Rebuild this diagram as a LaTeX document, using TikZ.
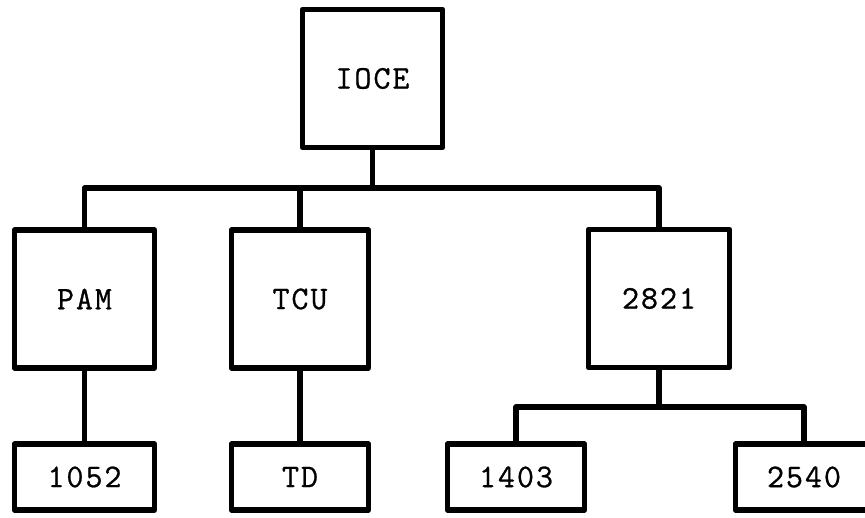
\documentclass[tikz,border=0pt]{standalone}
\usepackage{fontspec}
\newfontfamily\typew[FakeBold=0.8,LetterSpace=6]{Latin Modern Mono}
\begin{document}
\begin{tikzpicture}[x=1pt,y=-1pt,
  blk/.style={draw, line width=5.5pt, line join=round, fill=white, inner sep=0pt,
    font=\typew\fontsize{33}{33}\selectfont, minimum width=140pt},
  big/.style={blk, minimum height=138pt},
  small/.style={blk, minimum height=66pt},
  wire/.style={line width=5.5pt, line join=round}]
\clip (0,0) rectangle (865,517);
\fill[white] (0,0) rectangle (865,517);
\coordinate (bus1) at (0,188);
\coordinate (bus2) at (0,407);
\node[big] (ioce) at (372.5,78.5) {IOCE};
\node[big] (pam) at (84.5,299) {PAM};
\node[big, minimum width=137pt] (tcu) at (300,299) {TCU};
\node[big, minimum width=141pt] (n2821) at (659,298.5) {2821};
\node[small] (n1052) at (84.5,477) {1052};
\node[small, minimum width=137pt] (td) at (300,477) {TD};
\node[small, minimum width=137pt] (n1403) at (516,477) {1403};
\node[small, minimum width=137pt] (n2540) at (804,477) {2540};
\draw[wire] (ioce.south) -- (ioce.south |- bus1);
\draw[wire] (pam.north) -- (pam.north |- bus1) -| (n2821.north);
\draw[wire] (tcu.north) -- (tcu.north |- bus1);
\draw[wire] (pam.south) -- (n1052.north);
\draw[wire] (tcu.south) -- (td.north);
\draw[wire] (n2821.south) -- (n2821.south |- bus2);
\draw[wire] (n1403.north) -- (n1403.north |- bus2) -- (n2540.north |- bus2) -- (n2540.north);
\end{tikzpicture}
\end{document}
